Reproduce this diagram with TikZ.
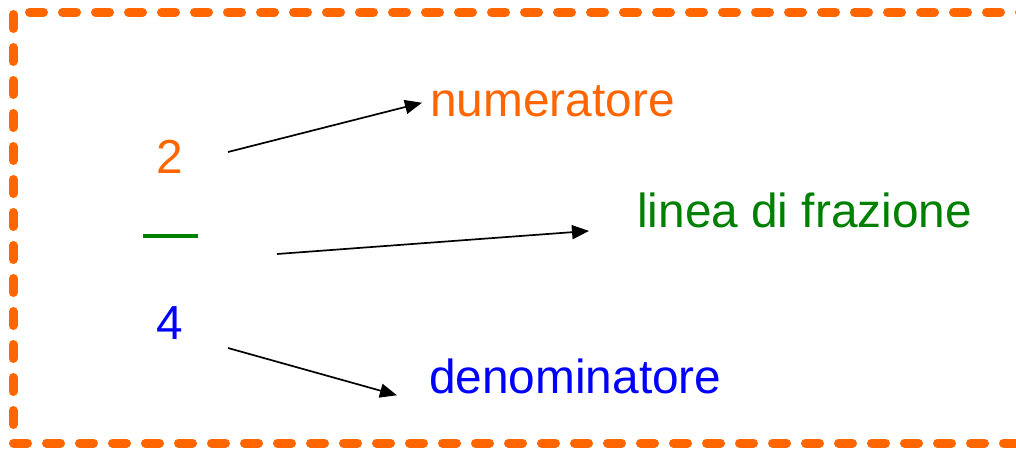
\documentclass[tikz,border=0pt]{standalone}
\usepackage{fontspec}
\setmainfont{Liberation Sans}
\usetikzlibrary{arrows.meta}
\definecolor{frameorange}{HTML}{FF6600}
\definecolor{fracgreen}{HTML}{008000}
\definecolor{fracblue}{HTML}{0000FF}
\tikzset{
  frameline/.style={draw=frameorange, line width=9pt, line cap=round,
    dash pattern=on 14pt off 19pt},
  label/.style={inner sep=0pt, anchor=base west,
    font=\fontsize{47.8pt}{57pt}\selectfont},
  digit/.style={inner sep=0pt, anchor=base,
    font=\fontsize{47.8pt}{57pt}\selectfont},
  pointer/.style={draw=black, line width=1.7pt,
    -{Triangle[length=17pt,width=14pt]}, shorten >=-1pt}
}
\begin{document}
\begin{tikzpicture}[x=1pt,y=-1pt]
  \useasboundingbox (0,0) rectangle (1016,450);
  \clip (0,0) rectangle (1016,450);

  % dashed orange frame, open on the right
  \draw[frameline] (29.5,12) -- (1040,12);
  \draw[frameline] (13,14.5) -- (13,443) -- (1040,443);

  % the fraction 2/4
  \node[digit, text=frameorange] (num) at (170,173) {2};
  \draw[fracgreen, line width=3.5pt] (143,236) -- (198,236);
  \coordinate (bar) at (170,236);
  \node[digit, text=fracblue] (den) at (170,339) {4};

  % labels
  \node[label, text=frameorange] (lnum) at (430,116.7) {numeratore};
  \node[label, text=fracgreen] (lbar) at (637,227.7) {linea di frazione};
  \node[label, text=fracblue] (lden) at (429,393) {denominatore};

  % connector end points
  \coordinate (s1) at (228,152);
  \coordinate (t1) at (421,103);
  \coordinate (s2) at (277,254);
  \coordinate (t2) at (588,231);
  \coordinate (s3) at (228,348);
  \coordinate (t3) at (396,395);

  \draw[pointer] (s1) -- (t1);
  \draw[pointer] (s2) -- (t2);
  \draw[pointer] (s3) -- (t3);
\end{tikzpicture}
\end{document}
